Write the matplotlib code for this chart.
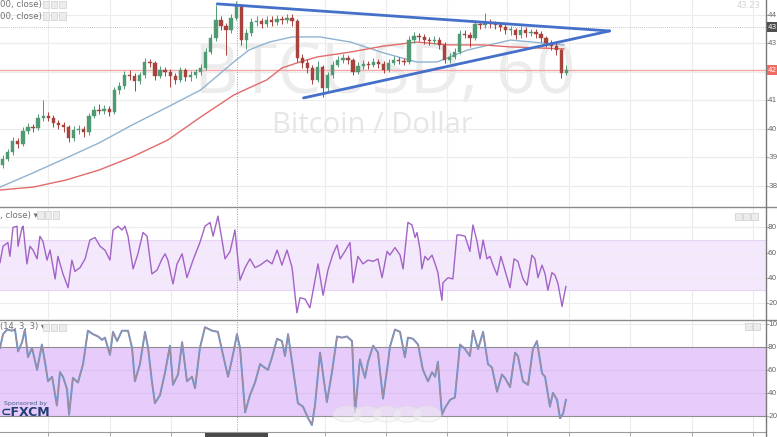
import matplotlib
matplotlib.use("Agg")
import matplotlib.pyplot as plt
import matplotlib.transforms as mtransforms
from matplotlib.patches import Rectangle, Circle
from matplotlib.lines import Line2D

plt.rcParams['font.family'] = ['DejaVu Sans']

# ---------------- data ----------------
first_open = 387.5
closes = [389.5, 391.9, 395.8, 394.6, 399.3, 400.7, 400.3, 403.9, 404.6, 403.9,
          402.1, 401.4, 400.7, 396.8, 399.6, 400.0, 398.9, 404.6, 406.7, 406.3,
          407.0, 406.0, 413.7, 415.1, 418.9, 418.6, 416.8, 418.9, 423.5, 423.2,
          418.6, 420.7, 420.0, 418.6, 417.2, 420.7, 418.2, 418.9, 420.0, 421.4,
          427.0, 431.9, 438.2, 436.1, 434.7, 439.0, 443.5, 431.2, 433.7, 437.5,
          437.9, 436.8, 438.2, 437.5, 438.6, 438.2, 439.0, 437.9, 424.9, 423.2,
          421.4, 417.2, 421.8, 414.4, 418.9, 422.5, 424.2, 424.9, 424.2, 420.0,
          422.1, 422.8, 422.5, 423.5, 422.8, 420.7, 423.2, 424.2, 423.9, 423.5,
          431.2, 432.6, 432.3, 431.2, 430.9, 431.2, 429.5, 424.2, 425.3, 427.0,
          433.3, 433.0, 431.9, 436.8, 436.5, 437.2, 436.8, 436.5, 435.8, 434.7,
          434.7, 433.0, 434.7, 433.7, 434.0, 433.3, 431.9, 430.2, 429.1, 427.7,
          419.5, 420.7]
highs = [390.8, 393.0, 397.2, 397.0, 400.6, 402.0, 401.9, 405.2, 410.2, 405.8,
         404.9, 403.3, 402.5, 401.5, 400.9, 401.4, 401.1, 405.7, 408.1, 408.6,
         408.3, 408.2, 414.9, 416.6, 420.3, 420.8, 419.6, 420.1, 424.9, 424.6,
         424.0, 422.0, 421.9, 421.0, 419.8, 421.8, 421.5, 420.2, 421.2, 422.8,
         428.4, 433.5, 443.6, 439.5, 437.3, 440.2, 445.0, 444.0, 435.0, 438.8,
         439.6, 439.0, 439.5, 439.6, 440.0, 439.8, 440.3, 440.2, 438.5, 426.4,
         424.5, 422.6, 424.0, 422.6, 420.1, 423.8, 425.5, 426.2, 426.0, 425.0,
         423.5, 424.1, 424.0, 424.8, 424.6, 423.7, 424.4, 425.6, 425.4, 425.0,
         432.6, 434.0, 433.8, 433.5, 432.4, 432.5, 432.3, 430.4, 426.7, 428.3,
         434.6, 434.9, 434.2, 438.1, 438.0, 440.7, 438.5, 438.0, 437.6, 436.9,
         436.0, 435.6, 436.0, 435.8, 435.2, 435.1, 434.4, 432.8, 431.4, 430.2,
         428.5, 422.5]
lows = [386.2, 388.6, 391.0, 393.4, 393.9, 398.1, 398.8, 399.5, 402.8, 402.7,
        400.8, 399.9, 398.8, 395.3, 395.9, 398.3, 397.2, 398.0, 403.8, 405.2,
        405.4, 404.6, 405.3, 412.4, 414.2, 417.1, 413.5, 415.9, 418.0, 421.7,
        417.3, 417.8, 418.7, 414.8, 415.9, 416.4, 417.0, 416.9, 418.0, 419.1,
        420.6, 426.2, 431.0, 434.8, 426.0, 433.6, 438.2, 429.5, 428.0, 432.8,
        436.2, 435.3, 435.8, 436.0, 436.6, 436.9, 437.2, 436.3, 423.6, 421.5,
        419.6, 415.8, 416.4, 411.2, 413.5, 418.0, 421.6, 423.0, 422.7, 418.8,
        419.2, 421.0, 421.2, 421.6, 421.5, 419.5, 419.9, 422.4, 422.8, 422.3,
        422.8, 430.2, 430.9, 429.9, 429.6, 429.8, 428.2, 423.0, 423.1, 424.4,
        426.3, 431.8, 428.9, 431.2, 435.0, 435.6, 435.4, 435.1, 434.4, 433.3,
        433.1, 431.6, 432.1, 432.4, 432.6, 431.9, 430.6, 428.8, 427.6, 426.0,
        417.9, 418.8]
opens = [first_open] + closes[:-1]
bar_hours = [1 + 2 * k for k in range(len(closes))]   # one candle every 2 hours

ma_blue_h = [0, 13, 26, 39, 52, 66, 79, 92, 98, 106, 115, 126, 138, 151, 164, 172, 184, 201, 222]
ma_blue_v = [379.6, 384.6, 389.8, 395.1, 401.4, 407.7, 413.7, 423.5, 427.7, 430.5,
             432.3, 432.3, 430.5, 426.7, 423.5, 423.5, 427.7, 431.2, 429.5]
ma_red_h = [0, 13, 26, 39, 52, 66, 79, 92, 98, 105, 111, 118, 125, 138, 151, 164, 177, 190, 201, 222]
ma_red_v = [378.6, 379.6, 382.1, 385.6, 390.2, 396.1, 404.2, 411.9, 414.4, 417.2,
            421.4, 423.5, 425.3, 427.0, 429.1, 430.5, 429.5, 429.5, 428.8, 428.1]

trend_upper_h = [85.5, 240.0]
trend_upper_v = [443.9, 434.4]
trend_lower_h = [119.5, 240.0]
trend_lower_v = [410.9, 434.4]

last_price = 420.7
cross_price = 435.8
cross_hour = 93.3

price_ticks = [440, 430, 420, 410, 400, 390, 380]
price_tick_labels = ['44', '43', '42', '41', '40', '39', '38']   # as cut at the right edge
day_ticks = [18.9, 43.3, 67.3, 128.0, 152.0, 176.0, 199.6, 224.0, 248.0, 272.4, 296.5]

rsi_h = [0, 1.2, 3.1, 3.9, 5.1, 6.7, 7.1, 8.7, 9.1, 10.6,
         11.8, 13, 14.6, 15.7, 16.9, 18.5, 19.7, 21.7, 22.8, 24.8,
         26.8, 28.3, 29.5, 31.5, 33.5, 35.4, 37.4, 39.4, 41.3, 43.3,
         44.5, 46.5, 48, 49.2, 50.4, 52.4, 54.3, 56.3, 57.9, 59.8,
         61.8, 63.8, 65, 66.1, 68.1, 69.7, 71.7, 73.6, 76, 78.7,
         80.7, 82.7, 83.9, 85.8, 87.4, 88.6, 90.6, 92.5, 94.5, 96.5,
         98.4, 100.4, 102.4, 105.1, 107.1, 109.1, 111, 113, 115, 116.9,
         118.1, 120.1, 122, 124, 125.2, 127.2, 129.1, 131.1, 132.7, 133.9,
         135.8, 137.8, 139, 140.9, 142.9, 144.9, 146.9, 148.8, 150.4, 152.4,
         153.5, 155.5, 157.5, 158.7, 160.6, 162.2, 163.4, 164.2, 165.4, 166.1,
         167.3, 168.5, 170.1, 171.3, 172.4, 173.2, 174, 174.4, 176.4, 178.3,
         179.9, 181.1, 183.1, 185, 186.2, 187.8, 189, 190.2, 191.7, 192.9,
         194.1, 195.7, 197.2, 198.8, 200.8, 202.4, 203.9, 205.9, 207.5, 209.4,
         210.6, 211.8, 213.4, 214.6, 215.7, 217.3, 218.5, 219.7, 221.3, 221.7,
         222.8]
rsi_v = [52, 65, 68, 57, 80, 81, 65, 80, 81, 51,
         65, 62, 55, 73, 69, 54, 62, 39, 57, 43,
         32, 54, 45, 48, 55, 70, 72, 65, 62, 54,
         78, 81, 78, 81, 73, 47, 59, 76, 73, 43,
         46, 55, 59, 54, 35, 51, 59, 40, 54, 68,
         81, 84, 73, 89, 70, 55, 61, 78, 38, 48,
         55, 48, 50, 54, 51, 62, 50, 62, 48, 12,
         24, 23, 16, 38, 51, 26, 46, 59, 66, 55,
         61, 68, 36, 57, 51, 54, 53, 55, 40, 61,
         58, 64, 58, 47, 84, 82, 72, 76, 62, 47,
         57, 54, 58, 51, 44, 32, 22, 36, 40, 39,
         74, 74, 73, 61, 82, 69, 55, 70, 55, 57,
         50, 42, 57, 46, 32, 55, 53, 39, 34, 58,
         55, 40, 50, 43, 30, 44, 42, 35, 17, 22,
         33]
rsi_ticks = [80, 60, 40, 20]
rsi_tick_labels = ['80', '60', '40', '20']

stoch_h = [0, 1.2, 2.8, 4.7, 5.9, 7.1, 8.7, 9.8, 11, 12.6,
           14.6, 16.5, 17.7, 18.9, 20.5, 22.4, 23.6, 24.8, 26.4, 27.2,
           28.7, 30.7, 32.7, 34.6, 36.6, 38.6, 40.2, 41.3, 43.3, 44.5,
           46.1, 48, 50.4, 52, 53.1, 55.1, 57.1, 58.3, 59.8, 61,
           63, 65, 66.9, 68.1, 70.1, 71.7, 73.6, 75.6, 76.8, 78.7,
           80.7, 83.5, 85.8, 87.8, 89.8, 91.7, 93.3, 94.5, 96.5, 98.4,
           100.4, 102.4, 103.5, 105.5, 107.1, 109.1, 111, 112.2, 113.4, 115.4,
           117.3, 119.3, 121.3, 122.8, 124, 126, 128.7, 130.7, 132.7, 134.6,
           136.6, 138.6, 139.8, 141.7, 143.7, 144.9, 146.9, 148.8, 150.8, 152.8,
           153.5, 155.5, 157.5, 159.4, 160.6, 162.6, 164.6, 166.5, 168.5, 170.1,
           171.3, 172.4, 174, 175.2, 177.2, 179.1, 181.1, 183.1, 185, 186.2,
           188.2, 190.2, 192.1, 193.7, 195.7, 197.6, 198.8, 200.8, 202.8, 203.9,
           205.9, 207.9, 209.8, 211.4, 213.4, 214.6, 216.5, 217.7, 219.3, 220.5,
           221.7, 222.8]
stoch_k = [79, 91, 95, 94, 95, 76, 84, 95, 71, 79,
           60, 82, 67, 50, 54, 29, 58, 54, 43, 21,
           53, 49, 65, 94, 91, 89, 86, 88, 73, 93,
           85, 94, 94, 79, 50, 65, 93, 79, 50, 31,
           38, 58, 81, 47, 56, 84, 50, 54, 44, 79,
           97, 94, 93, 73, 54, 73, 91, 79, 23, 38,
           49, 65, 63, 60, 71, 87, 85, 72, 91, 60,
           31, 28, 18, 12, 29, 75, 32, 58, 89, 88,
           89, 85, 23, 69, 53, 67, 81, 75, 35, 67,
           80, 95, 93, 71, 88, 87, 82, 60, 50, 58,
           54, 67, 21, 27, 34, 36, 82, 78, 72, 94,
           78, 93, 65, 62, 41, 56, 53, 45, 75, 72,
           50, 47, 78, 85, 57, 54, 28, 40, 34, 18,
           22, 34]
stoch_ticks = [100, 80, 60, 40, 20]
stoch_tick_labels = ['10', '80', '60', '40', '20']

# ---------------- layout ----------------
W, H = 777, 437
fig = plt.figure(figsize=(W / 100, H / 100), dpi=100)
fig.patch.set_facecolor('white')


def fx(x):
    return x / W


def fy(y):
    return 1 - y / H


AX_R = 766
XMAX = AX_R / 2.54
main = fig.add_axes([0, fy(206), fx(AX_R), fy(0) - fy(206)])
rsi = fig.add_axes([0, fy(319), fx(AX_R), fy(207) - fy(319)])
sto = fig.add_axes([0, fy(432), fx(AX_R), fy(320) - fy(432)])

GRID = '#ececec'
for ax in (main, rsi, sto):
    ax.set_xlim(0, XMAX)
    for s in ax.spines.values():
        s.set_visible(False)
    ax.set_xticks([])
    ax.yaxis.tick_right()
    ax.tick_params(axis='y', length=2, color='#999999', labelright=False, width=0.6)
    for d in day_ticks:
        ax.axvline(d, color=GRID, lw=0.8, zorder=0)
    ax.axvline(cross_hour, color='#a0a0a0', lw=0.7, ls=(0, (1, 1.5)), zorder=1)

LAB_FS = 5.2
LAB_X = 1 + 2 / AX_R

# ---- main price panel ----
main.set_ylim(372.98, 445.26)
main.set_yticks(price_ticks)
for p in price_ticks:
    main.axhline(p, color=GRID, lw=0.8, zorder=0)

main.text(0.503, 0.636, 'BTCUSD, 60', transform=main.transAxes, ha='center', va='center',
          fontsize=50, color='#ececec', family='Open Sans', zorder=0.5)
main.text(0.486, 0.393, 'Bitcoin / Dollar', transform=main.transAxes, ha='center', va='center',
          fontsize=21, color='#e6e6e6', family='Open Sans', zorder=0.5)

main.axhline(last_price, color='#f3a7a7', lw=1.0, zorder=1)
main.axhline(cross_price, color='#b0b0b0', lw=0.6, ls=(0, (1, 1.5)), zorder=1)

main.plot(ma_blue_h, ma_blue_v, color='#8fb3d0', lw=1.0, zorder=2)
main.plot(ma_red_h, ma_red_v, color='#e36a6a', lw=1.0, zorder=2)

UP, DOWN = '#4f9a72', '#a8423c'
for h, o, hi, lo, c in zip(bar_hours, opens, highs, lows, closes):
    col = UP if c >= o else DOWN
    main.vlines(h, lo, hi, color=col, lw=0.7, zorder=3)
    main.bar(h, max(abs(c - o), 0.25), bottom=min(o, c), width=1.3, color=col,
             edgecolor=col, lw=0.3, zorder=4)

main.plot(trend_upper_h, trend_upper_v, color='#4570c9', lw=2.0, zorder=5, solid_capstyle='round')
main.plot(trend_lower_h, trend_lower_v, color='#4570c9', lw=2.0, zorder=5, solid_capstyle='round')

blend_main = mtransforms.blended_transform_factory(main.transAxes, main.transData)
for p, lab in zip(price_ticks, price_tick_labels):
    if abs(p - last_price) < 2.0:
        continue  # hidden under the last-price label
    main.text(LAB_X, p, lab, transform=blend_main, fontsize=LAB_FS, color='#666666',
              va='center', ha='left', clip_on=False)

# ---- RSI panel ----
rsi.set_ylim(7.1, 96.3)
rsi.set_yticks(rsi_ticks)
rsi.axhspan(30, 70, color='#f4e8fc', zorder=0.2, lw=0)
for v in rsi_ticks:
    rsi.axhline(v, color=GRID, lw=0.8, zorder=0.3)
rsi.axhline(30, color='#e8d5f5', lw=0.8, zorder=0.4)
rsi.axhline(70, color='#e8d5f5', lw=0.8, zorder=0.4)
rsi.plot(rsi_h, rsi_v, color='#a263c6', lw=1.0, zorder=3)
blend_rsi = mtransforms.blended_transform_factory(rsi.transAxes, rsi.transData)
for v, lab in zip(rsi_ticks, rsi_tick_labels):
    rsi.text(LAB_X, v, lab, transform=blend_rsi, fontsize=LAB_FS, color='#666666',
             va='center', ha='left', clip_on=False)

# ---- Stochastic panel ----
sto.set_ylim(6.0, 103.3)
sto.set_yticks(stoch_ticks)
sto.axhspan(20, 80, color='#e7cbfb', zorder=0.2, lw=0)
for v in [40, 60, 100]:
    sto.axhline(v, color=GRID if v == 100 else '#dcc0f0', lw=0.8, zorder=0.3)
sto.axhline(20, color='#8e8e8e', lw=0.8, zorder=0.4)
sto.axhline(80, color='#8e8e8e', lw=0.8, zorder=0.4)
sto.plot(stoch_h, stoch_k, color='#5b9be0', lw=1.4, zorder=3)
sto.plot(stoch_h, stoch_k, color='#a08c9c', lw=0.9, zorder=4)
blend_sto = mtransforms.blended_transform_factory(sto.transAxes, sto.transData)
for v, lab in zip(stoch_ticks, stoch_tick_labels):
    sto.text(LAB_X, v, lab, transform=blend_sto, fontsize=LAB_FS, color='#666666',
             va='center', ha='left', clip_on=False)
sto.set_xticks(day_ticks + [cross_hour])
sto.tick_params(axis='x', length=3, color='#999999', labelbottom=False, width=0.6)

# nav buttons
for cx in [347, 367, 387, 407, 427]:
    fig.patches.append(Circle((fx(cx), fy(414)), radius=8 / H, transform=fig.transFigure,
                              facecolor='#f2f2f2', edgecolor='#d8d8d8', lw=0.8, alpha=0.45,
                              zorder=6))

# ---------------- chrome ----------------
def fig_rect(x0, y0, x1, y1, fc, ec='none', lw=0.0, z=10):
    fig.patches.append(Rectangle((fx(x0), fy(y1)), fx(x1) - fx(x0), fy(y0) - fy(y1),
                                 transform=fig.transFigure, facecolor=fc, edgecolor=ec,
                                 lw=lw, zorder=z))


def fig_hline(y, x0, x1, color='#8a8a8a', lw=1.0):
    fig.lines.append(Line2D([fx(x0), fx(x1)], [fy(y), fy(y)], transform=fig.transFigure,
                            color=color, lw=lw, zorder=9))


fig_hline(206.5, 0, W)
fig_hline(319.5, 0, W)
fig_hline(432.0, 0, AX_R, color='#9a9a9a', lw=0.8)
fig.lines.append(Line2D([fx(AX_R), fx(AX_R)], [0, 1], transform=fig.transFigure,
                        color='#7a7a7a', lw=1.0, zorder=9))

# price labels on axis (cut at the right edge like the reference)
fig_rect(AX_R + 1, 22, W, 32, '#4f4f4f')
fig.text(fx(AX_R + 2), fy(27), '43', fontsize=LAB_FS, color='white',
         va='center', ha='left', zorder=11)
fig_rect(AX_R + 1, 65, W, 75, '#f26b63')
fig.text(fx(AX_R + 2), fy(70), '42', fontsize=LAB_FS, color='white',
         va='center', ha='left', zorder=11)
# time label on axis
fig_rect(205, 432.5, 268, H, '#4a4a4a')

# legend lines
LG = '#707070'
fig.text(fx(0), fy(4), '00, close) \u25be', fontsize=6.2, color=LG, va='center', ha='left')
fig.text(fx(0), fy(16), '00, close) \u25be', fontsize=6.2, color=LG, va='center', ha='left')
for row_y in (4, 16):
    for bx in (43, 51, 59):
        fig_rect(bx, row_y - 3.5, bx + 6.5, row_y + 3.5, '#ececec', '#d4d4d4', 0.6)
fig.text(fx(0), fy(215), ', close) \u25be', fontsize=6.2, color=LG, va='center', ha='left')
for bx in (37, 45, 53):
    fig_rect(bx, 211.5, bx + 6.5, 218.5, '#ececec', '#d4d4d4', 0.6)
for bx in (735, 743, 751):
    fig_rect(bx, 212.5, bx + 6.5, 219.5, '#ececec', '#d4d4d4', 0.6)
fig.text(fx(0), fy(327), '(14, 3, 3) \u25be', fontsize=6.0, color=LG, va='center', ha='left')
for bx in (43, 51, 59):
    fig_rect(bx, 323.5, bx + 6.5, 330.5, '#ececec', '#d4d4d4', 0.6)
for bx in (745, 753):
    fig_rect(bx, 322.5, bx + 6.5, 329.5, '#ececec', '#d4d4d4', 0.6)

fig.text(fx(737), fy(6), '43.23', fontsize=6.0, color='#d4d4d4', va='center', ha='left')

# sponsor logo
fig.text(fx(4), fy(403), 'Sponsored by', fontsize=4.5, color='#45628f', va='center', ha='left')
fig.text(fx(1), fy(413), '\u2282FXCM', fontsize=9, fontweight='bold', color='#233e74',
         va='center', ha='left')

fig.savefig('out.png', dpi=100, facecolor='white')
